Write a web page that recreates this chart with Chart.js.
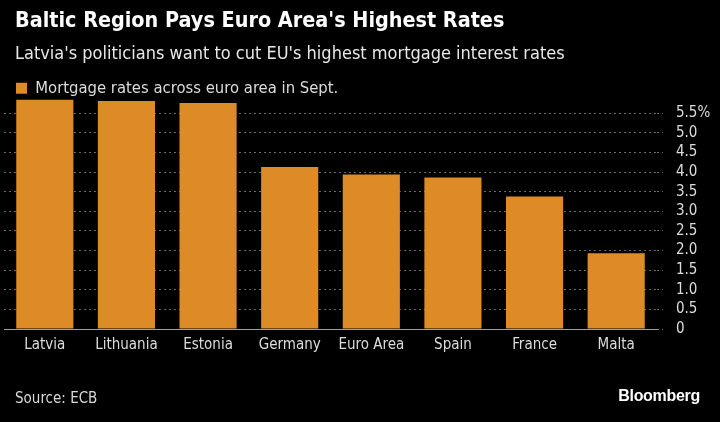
<!DOCTYPE html>
<html>
<head>
<meta charset="utf-8">
<script src="https://cdn.jsdelivr.net/npm/chart.js@4/dist/chart.umd.min.js"></script>
<style>
  html, body { margin: 0; padding: 0; background: #000; }
  #wrap { position: relative; width: 720px; height: 422px; background: #000; overflow: hidden;
          font-family: "Liberation Sans Narrow", "DejaVu Sans Condensed", "Liberation Sans", sans-serif; }
  #title { position: absolute; left: 15px; top: 7px; color: #fff; font-weight: bold; font-size: 21.4px; }
  #subtitle { position: absolute; left: 15px; top: 42px; color: #e8e8e8; font-size: 18px; }
  #source { position: absolute; left: 15px; top: 389px; color: #d8d8d8; font-size: 15px; }
  #brand { position: absolute; right: 20px; top: 387px; color: #fff; font-weight: bold; font-size: 16px;
           font-family: "Liberation Sans", sans-serif; letter-spacing: -0.3px; }
  canvas { position: absolute; left: 0; top: 0; }
</style>
</head>
<body>
<div id="wrap">
  <canvas id="chart" width="720" height="422"></canvas>
  <div id="title">Baltic Region Pays Euro Area's Highest Rates</div>
  <div id="subtitle">Latvia's politicians want to cut EU's highest mortgage interest rates</div>
  <div id="source">Source: ECB</div>
  <div id="brand">Bloomberg</div>
</div>
<script>
// data
const countries = ["Latvia", "Lithuania", "Estonia", "Germany", "Euro Area", "Spain", "France", "Malta"];
const rates = [5.84, 5.81, 5.76, 4.13, 3.94, 3.86, 3.38, 1.93];
const yTicks = [0, 0.5, 1.0, 1.5, 2.0, 2.5, 3.0, 3.5, 4.0, 4.5, 5.0, 5.5];
const seriesLabel = "Mortgage rates across euro area in Sept.";

const FONT = "'Liberation Sans Narrow', 'DejaVu Sans Condensed', 'Liberation Sans', sans-serif";
const BAR = "#dd8b27";
const TEXT = "#dcdcdc";
const GRID = "#6a6a6a";

// nudge the legend so it lines up with the first bar, not the chart edge
const legendNudge = {
  id: "legendNudge",
  afterLayout(chart) {
    const lg = chart.legend;
    if (!lg) return;
    lg.left += 8; lg.right += 8;
    lg.top += 9; lg.bottom += 9;
  }
};

new Chart(document.getElementById("chart"), {
  type: "bar",
  data: {
    labels: countries,
    datasets: [{
      label: seriesLabel,
      data: rates,
      backgroundColor: BAR,
      borderWidth: 0,
      barPercentage: 0.7,
      categoryPercentage: 1.0,
    }]
  },
  plugins: [legendNudge],
  options: {
    responsive: false,
    animation: false,
    layout: { padding: { top: 67, left: 4, right: 0, bottom: 61 } },
    plugins: {
      legend: {
        position: "top", align: "start",
        labels: { color: TEXT, font: { family: FONT, size: 16.5 }, boxWidth: 11, boxHeight: 11, padding: 4 }
      },
      tooltip: { enabled: false }
    },
    scales: {
      x: {
        grid: { display: false, drawTicks: false },
        border: { display: true, color: "#a0a0a0", width: 1 },
        ticks: { color: TEXT, font: { family: FONT, size: 15 }, padding: 7 }
      },
      y: {
        position: "right",
        min: 0, max: 5.9,
        afterBuildTicks: s => { s.ticks = yTicks.map(v => ({ value: v })); },
        afterFit: s => { s.width = 63; },
        grid: {
          color: c => c.tick && c.tick.value === 0 ? "rgba(0,0,0,0)" : GRID,
          tickBorderDash: [2, 3],
          tickColor: GRID,
          tickLength: 6
        },
        border: { display: false, dash: [2, 3] },
        ticks: {
          autoSkip: false,
          color: TEXT, font: { family: FONT, size: 15 }, padding: 13,
          callback: v => v === 0 ? "0" : (v === 5.5 ? "5.5%" : v.toFixed(1))
        }
      }
    }
  }
});
</script>
</body>
</html>
